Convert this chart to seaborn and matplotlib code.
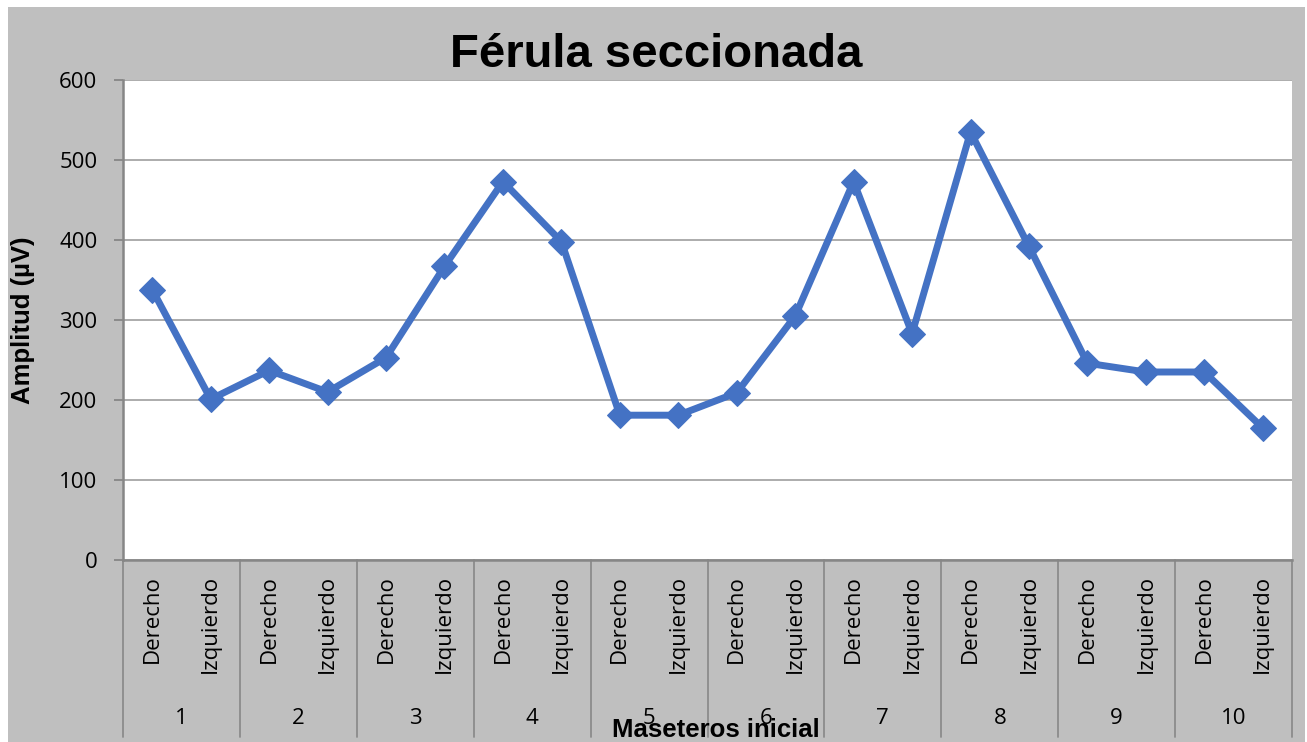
import numpy as np
import pandas as pd
import seaborn as sns
import matplotlib.pyplot as plt
from matplotlib.patches import Rectangle

# data
groups = ["1", "2", "3", "4", "5", "6", "7", "8", "9", "10"]
sides = ["Derecho", "Izquierdo"]
amplitud = [338, 201, 237, 210, 253, 367, 473, 398, 181, 181,
            209, 305, 473, 283, 535, 392, 246, 235, 235, 165]

W, H = 1307, 742
BG = "#bfbfbf"
BLUE = "#4472c4"

sns.set_style("white")
plt.rcParams["font.family"] = ["Open Sans", "DejaVu Sans"]
plt.rcParams["text.color"] = "black"
plt.rcParams["axes.labelcolor"] = "black"
plt.rcParams["xtick.color"] = "black"
plt.rcParams["ytick.color"] = "black"

df = pd.DataFrame({
    "pos": np.arange(len(amplitud)),
    "lado": sides * len(groups),
    "grupo": np.repeat(groups, 2),
    "amplitud": amplitud,
})

fig = plt.figure(figsize=(W / 100, H / 100), dpi=100)
fig.patch.set_facecolor("white")
fig.add_artist(Rectangle((8 / W, 0), (1305 - 8) / W, (H - 7) / H,
                         transform=fig.transFigure, facecolor=BG,
                         edgecolor="none", zorder=-1))

left, right, top, bottom = 123, 1292, 80, 560
ax = fig.add_axes([left / W, 1 - bottom / H, (right - left) / W, (bottom - top) / H])
ax.set_facecolor("white")

sns.lineplot(data=df, x="pos", y="amplitud", ax=ax, color=BLUE, linewidth=5,
             marker="D", markersize=13.5, markeredgecolor=BLUE, zorder=3)

ax.set_xlim(-0.5, len(amplitud) - 0.5)
ax.set_ylim(0, 600)
ax.set_yticks(range(0, 601, 100))
ax.yaxis.grid(True, color="#a6a6a6", linewidth=1.3)
ax.set_axisbelow(True)
for s in ["top", "right"]:
    ax.spines[s].set_visible(False)
ax.spines["left"].set_color("#868686")
ax.spines["left"].set_linewidth(1.8)
ax.spines["bottom"].set_color("#868686")
ax.spines["bottom"].set_linewidth(1.8)
ax.tick_params(axis="y", left=True, length=6.5, width=1.3, color="#868686",
               pad=12, labelsize=16, labelcolor="black")

ax.set_xticks(df["pos"])
ax.set_xticklabels(df["lado"], rotation=90, fontsize=16, color="black")
ax.tick_params(axis="x", length=0, pad=11)

# group boundaries and numbers under the axis
trans = ax.get_xaxis_transform()
depth = (737 - bottom) / (bottom - top)
for b in np.arange(-0.5, len(amplitud), 2):
    ax.plot([b, b], [0, -depth], transform=trans, color="#8c8c8c",
            linewidth=1.3, clip_on=False)
for i, g in enumerate(groups):
    ax.text(2 * i + 0.5, -(718 - bottom) / (bottom - top), g, transform=trans,
            ha="center", va="center", fontsize=16, color="black")

ax.set_xlabel("")
ax.set_ylabel("Amplitud (µV)", fontsize=18.5, fontweight="bold",
              family="Liberation Sans", color="black")
ax.yaxis.set_label_coords(-(left - 35) / (right - left), 0.5)

fig.text(656 / W, 1 - 55 / H, "Férula seccionada", ha="center", va="center",
         fontsize=34, fontweight="bold", family="Liberation Sans", color="black")
fig.text(716 / W, 1 - 737 / H, "Maseteros inicial", ha="center", va="baseline",
         fontsize=18.5, fontweight="bold", family="Liberation Sans", color="black")

fig.savefig("out.png", dpi=100)
